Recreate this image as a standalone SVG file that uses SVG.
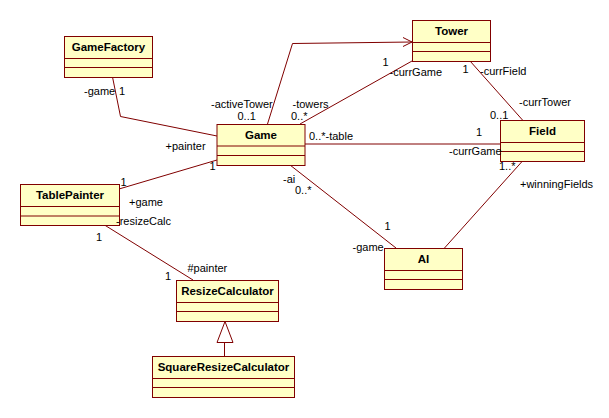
<svg xmlns="http://www.w3.org/2000/svg" width="609" height="418" viewBox="0 0 609 418">
<style>
.box{fill:#FFFFC6;stroke:#800000;stroke-width:1}
.div{stroke:#800000;stroke-width:1}
.name{font-family:"Liberation Sans",Arial,sans-serif;font-size:11.5px;font-weight:bold;fill:#000;text-anchor:middle}
.lbl{font-family:"Liberation Sans",Arial,sans-serif;font-size:11px;fill:#000}
.ln{fill:none;stroke:#800000;stroke-width:1}
</style>
<rect width="609" height="418" fill="#fff"/>
<g id="connectors">
<polyline class="ln" points="112.5,77 120.5,116.5 217,136"/>
<polyline class="ln" points="267.5,124 292.5,43.5 412,42"/>
<polyline class="ln" points="403,37.5 412,42 403,46.5"/>
<line class="ln" x1="300" y1="124" x2="412" y2="61"/>
<line class="ln" x1="470" y1="61" x2="522.5" y2="120"/>
<line class="ln" x1="305" y1="144" x2="500" y2="144"/>
<line class="ln" x1="290" y1="165" x2="396" y2="248"/>
<line class="ln" x1="522.5" y1="161" x2="444.5" y2="248"/>
<line class="ln" x1="119" y1="189" x2="217" y2="160"/>
<line class="ln" x1="104.5" y1="225" x2="193" y2="280"/>
<line class="ln" x1="224.5" y1="356" x2="224.5" y2="342.5"/>
<polygon class="ln" points="225,321.5 217,342.5 233,342.5" fill="#fff"/>
</g>
<g id="GameFactory">
<rect class="box" x="64.5" y="36.5" width="88" height="41"/>
<line class="div" x1="64.5" y1="58.5" x2="152.5" y2="58.5"/>
<line class="div" x1="64.5" y1="67.5" x2="152.5" y2="67.5"/>
<text class="name" x="108.5" y="51">GameFactory</text>
</g>
<g id="Game">
<rect class="box" x="217" y="124.5" width="88" height="41"/>
<line class="div" x1="217" y1="146" x2="305" y2="146"/>
<line class="div" x1="217" y1="155.5" x2="305" y2="155.5"/>
<text class="name" x="261" y="139">Game</text>
</g>
<g id="Tower">
<rect class="box" x="412.5" y="20.5" width="78" height="41"/>
<line class="div" x1="412.5" y1="42.5" x2="490.5" y2="42.5"/>
<line class="div" x1="412.5" y1="51.5" x2="490.5" y2="51.5"/>
<text class="name" x="451.5" y="35">Tower</text>
</g>
<g id="Field">
<rect class="box" x="500.5" y="120.5" width="84" height="41"/>
<line class="div" x1="500.5" y1="142.5" x2="584.5" y2="142.5"/>
<line class="div" x1="500.5" y1="151.5" x2="584.5" y2="151.5"/>
<text class="name" x="542.5" y="135">Field</text>
</g>
<g id="TablePainter">
<rect class="box" x="20.5" y="184.5" width="99" height="41"/>
<line class="div" x1="20.5" y1="206.5" x2="119.5" y2="206.5"/>
<line class="div" x1="20.5" y1="216" x2="119.5" y2="216"/>
<text class="name" x="70" y="199">TablePainter</text>
</g>
<g id="AI">
<rect class="box" x="384.5" y="248.5" width="78" height="41"/>
<line class="div" x1="384.5" y1="270.5" x2="462.5" y2="270.5"/>
<line class="div" x1="384.5" y1="279.5" x2="462.5" y2="279.5"/>
<text class="name" x="423.5" y="263">AI</text>
</g>
<g id="ResizeCalculator">
<rect class="box" x="176.5" y="280.5" width="102" height="41"/>
<line class="div" x1="176.5" y1="302.5" x2="278.5" y2="302.5"/>
<line class="div" x1="176.5" y1="311.5" x2="278.5" y2="311.5"/>
<text class="name" x="227.5" y="295">ResizeCalculator</text>
</g>
<g id="SquareResizeCalculator">
<rect class="box" x="152.5" y="356.5" width="142" height="41"/>
<line class="div" x1="152.5" y1="378.5" x2="294.5" y2="378.5"/>
<line class="div" x1="152.5" y1="387.5" x2="294.5" y2="387.5"/>
<text class="name" x="223.5" y="371">SquareResizeCalculator</text>
</g>
<g id="labels">
<text class="lbl" x="84" y="95">-game</text>
<text class="lbl" x="119" y="95">1</text>
<text class="lbl" x="211" y="108">-activeTower</text>
<text class="lbl" x="237.5" y="120">0..1</text>
<text class="lbl" x="292.5" y="108">-towers</text>
<text class="lbl" x="291" y="120">0..*</text>
<text class="lbl" x="382.5" y="66">1</text>
<text class="lbl" x="389.5" y="76">-currGame</text>
<text class="lbl" x="462.5" y="73">1</text>
<text class="lbl" x="480" y="75">-currField</text>
<text class="lbl" x="519" y="106">-currTower</text>
<text class="lbl" x="490" y="119">0..1</text>
<text class="lbl" x="309" y="140">0..*-table</text>
<text class="lbl" x="476" y="136">1</text>
<text class="lbl" x="449" y="155">-currGame</text>
<text class="lbl" x="499" y="170">1..*</text>
<text class="lbl" x="520" y="188">+winningFields</text>
<text class="lbl" x="283" y="183">-ai</text>
<text class="lbl" x="295" y="194">0..*</text>
<text class="lbl" x="384.5" y="230">1</text>
<text class="lbl" x="352.5" y="251">-game</text>
<text class="lbl" x="165.5" y="150">+painter</text>
<text class="lbl" x="209.5" y="170">1</text>
<text class="lbl" x="120.5" y="186">1</text>
<text class="lbl" x="129" y="206">+game</text>
<text class="lbl" x="116" y="225">-resizeCalc</text>
<text class="lbl" x="96" y="241">1</text>
<text class="lbl" x="187.5" y="272">#painter</text>
<text class="lbl" x="165" y="280">1</text>
</g>
</svg>
